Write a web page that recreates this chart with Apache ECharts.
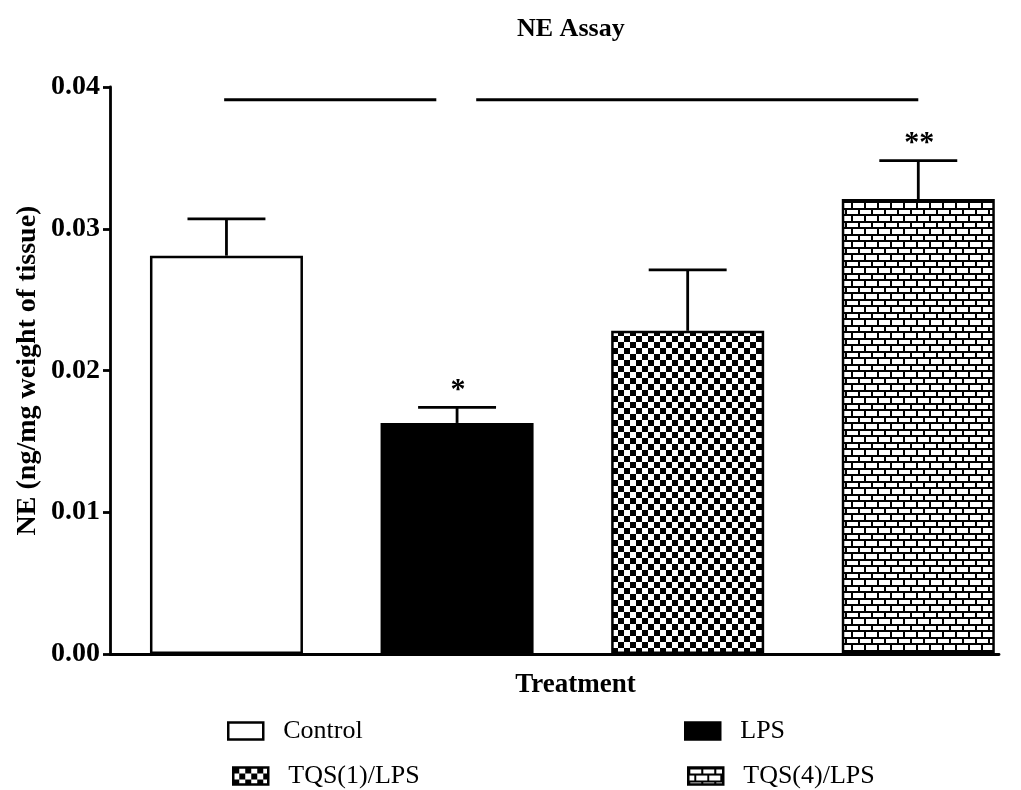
<!DOCTYPE html>
<html>
<head>
<meta charset="utf-8">
<script src="https://cdn.jsdelivr.net/npm/echarts@6/dist/echarts.min.js"></script>
<style>
  html, body { margin: 0; padding: 0; background: #fff; }
  #chart { width: 1021px; height: 790px; }
</style>
</head>
<body>
<div id="chart"></div>
<script>
// ---- data ----
const categories = ['Control', 'LPS', 'TQS(1)/LPS', 'TQS(4)/LPS'];
const means = [0.0281, 0.0163, 0.0228, 0.0321];
const errors = [0.0026, 0.0011, 0.0043, 0.0027];
const significance = ['', '*', '', '**'];
const sigLines = [[0, 1, 0.0391], [1, 3, 0.0391]];
const yTicks = [0, 0.01, 0.02, 0.03, 0.04];

// ---- patterns ----
function checkerPattern() {
  const c = document.createElement('canvas');
  const s = 6;
  c.width = s * 2; c.height = s * 2;
  const g = c.getContext('2d');
  g.fillStyle = '#fff'; g.fillRect(0, 0, c.width, c.height);
  g.fillStyle = '#000';
  g.fillRect(0, 0, s, s);
  g.fillRect(s, s, s, s);
  return { image: c, repeat: 'repeat' };
}
function brickPattern() {
  const c = document.createElement('canvas');
  const w = 26, h = 13;
  c.width = w; c.height = h;
  const g = c.getContext('2d');
  g.fillStyle = '#fff'; g.fillRect(0, 0, w, h);
  g.fillStyle = '#000';
  g.fillRect(0, 0, w, 2);
  g.fillRect(0, 6, w, 2);
  g.fillRect(0, 0, 2, 6);
  g.fillRect(13, 0, 2, 6);
  g.fillRect(6, 6, 2, 7);
  g.fillRect(19, 6, 2, 7);
  return { image: c, repeat: 'repeat' };
}

const fills = ['#ffffff', '#000000', checkerPattern(), brickPattern()];
const serif = 'Liberation Serif, Times New Roman, serif';

const barSeries = categories.map((name, i) => ({
  name: name,
  type: 'bar',
  barGap: '-100%',
  barWidth: 153,
  data: [[i, means[i]]],
  itemStyle: { color: fills[i], borderColor: '#000', borderWidth: 2.5 },
  emphasis: { disabled: true },
  z: 2
}));

const errorSeries = {
  type: 'custom',
  silent: true,
  z: 3,
  data: means.map((m, i) => [i, m, errors[i], i]),
  renderItem: function (params, api) {
    const idx = api.value(0);
    const base = api.coord([idx, api.value(1)]);
    const top = api.coord([idx, api.value(1) + api.value(2)]);
    const unit = api.size([1, 0])[0];
    const half = unit * 0.169;
    const style = { stroke: '#000', lineWidth: 2.8 };
    const children = [
      { type: 'line', shape: { x1: base[0], y1: base[1], x2: top[0], y2: top[1] }, style: style },
      { type: 'line', shape: { x1: top[0] - half, y1: top[1], x2: top[0] + half, y2: top[1] }, style: style }
    ];
    const sig = significance[api.value(3)];
    if (sig) {
      children.push({
        type: 'text',
        style: {
          text: sig, x: top[0] + 1, y: top[1] - 2,
          align: 'center', verticalAlign: 'bottom',
          font: 'bold 30px ' + serif, fill: '#000'
        }
      });
    }
    return { type: 'group', children: children };
  }
};

const sigSeries = {
  type: 'custom',
  silent: true,
  z: 3,
  data: sigLines,
  renderItem: function (params, api) {
    const a = api.value(0), b = api.value(1), y = api.value(2);
    const unit = api.size([1, 0])[0];
    const p1 = api.coord([a, y]);
    const p2 = api.coord([b, y]);
    let x1 = p1[0] - unit * 0.01, x2 = p2[0];
    if (a === 1) x1 = p1[0] + unit * 0.083;
    if (b === 1) x2 = p2[0] - unit * 0.09;
    return {
      type: 'line',
      shape: { x1: x1, y1: p1[1], x2: x2, y2: p2[1] },
      style: { stroke: '#000', lineWidth: 2.8 }
    };
  }
};

const legendText = { fontFamily: serif, fontSize: 26, color: '#000', padding: [0, 0, 0, 15] };
const legendBase = {
  orient: 'vertical',
  icon: 'rect',
  itemWidth: 35, itemHeight: 17,
  textStyle: legendText,
  selectedMode: false,
  itemStyle: { borderColor: '#000', borderWidth: 2.5 }
};

const option = {
  animation: false,
  backgroundColor: '#fff',
  title: {
    text: 'NE Assay',
    left: 512, top: 11,
    textStyle: { fontFamily: serif, fontWeight: 'bold', fontSize: 26, color: '#000' }
  },
  legend: [
    Object.assign({}, legendBase, { data: [categories[0]], left: 222, top: 713 }),
    Object.assign({}, legendBase, { data: [categories[1]], left: 679, top: 713 }),
    Object.assign({}, legendBase, { data: [categories[2]], left: 227, top: 758 }),
    Object.assign({}, legendBase, { data: [categories[3]], left: 682, top: 758 })
  ],
  grid: { left: 110, top: 87, right: 22, height: 567, containLabel: false },
  xAxis: {
    type: 'value',
    min: -0.505, max: 3.35,
    name: 'Treatment',
    nameLocation: 'middle',
    nameGap: 18,
    nameTextStyle: { fontFamily: serif, fontWeight: 'bold', fontSize: 27, color: '#000', padding: [0, 0, 0, 42] },
    axisLine: { show: true, onZero: false, lineStyle: { color: '#000', width: 2.8 } },
    axisTick: { show: false },
    axisLabel: { show: false },
    splitLine: { show: false }
  },
  yAxis: {
    type: 'value',
    min: yTicks[0], max: yTicks[yTicks.length - 1], interval: 0.01,
    name: 'NE (ng/mg weight of tissue)',
    nameLocation: 'middle',
    nameGap: 68,
    nameMoveOverlap: false,
    nameTextStyle: { fontFamily: serif, fontWeight: 'bold', fontSize: 28, color: '#000' },
    axisLine: { show: true, onZero: false, lineStyle: { color: '#000', width: 2.8 } },
    axisTick: { show: true, length: 7, lineStyle: { color: '#000', width: 2.8 } },
    axisLabel: { fontFamily: serif, fontWeight: 'bold', fontSize: 28, color: '#000', margin: 10,
      formatter: v => v.toFixed(2) },
    splitLine: { show: false }
  },
  series: barSeries.concat([errorSeries, sigSeries])
};

const chart = echarts.init(document.getElementById('chart'), null, { renderer: 'canvas' });
chart.setOption(option);
</script>
</body>
</html>
